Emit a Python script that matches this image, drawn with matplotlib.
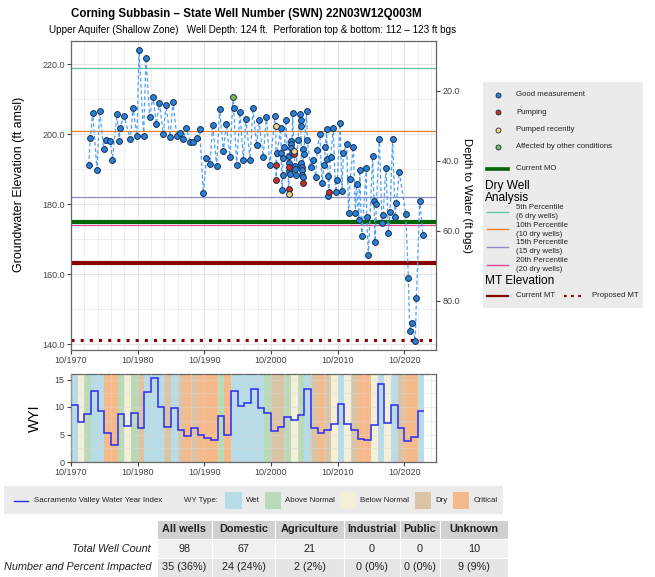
import matplotlib
matplotlib.use("Agg")
import matplotlib.pyplot as plt
import numpy as np
from matplotlib.patches import Rectangle
from matplotlib.ticker import MultipleLocator, FuncFormatter

plt.rcParams["font.family"] = ["Liberation Sans", "DejaVu Sans"]

W, H = 655, 577

# ---- hydrograph measurements: decimal year, elevation (ft amsl), quality code
# G = good, P = pumping, R = pumped recently, O = affected by other conditions
meas_year = [
    1973.40, 1973.65, 1974.00, 1974.65, 1975.05, 1975.65, 1976.00, 1976.65, 1976.95, 1977.65,
    1978.00, 1978.05, 1978.70, 1979.65, 1980.05, 1980.65, 1980.95, 1981.65, 1982.00, 1982.55,
    1983.05, 1983.55, 1984.00, 1984.60, 1985.00, 1985.60, 1986.05, 1986.60, 1987.10, 1987.60,
    1988.05, 1988.65, 1989.10, 1989.65, 1990.05, 1990.60, 1991.05, 1991.60, 1992.00, 1992.60,
    1993.05, 1993.60, 1994.05, 1994.60, 1995.05, 1995.15, 1995.60, 1996.10, 1996.60, 1997.00,
    1997.60, 1998.05, 1998.60, 1998.95, 1999.57, 2000.07, 2000.57, 2001.37, 2001.47, 2001.52,
    2001.57, 2001.67, 2002.20, 2002.27, 2002.40, 2002.50, 2002.53, 2002.77, 2003.00, 2003.40,
    2003.42, 2003.45, 2003.47, 2003.48, 2003.50, 2003.55, 2003.73, 2003.75, 2003.80, 2003.85,
    2004.00, 2004.18, 2004.22, 2004.35, 2004.40, 2004.45, 2004.80, 2005.10, 2005.20, 2005.25,
    2005.30, 2005.35, 2005.40, 2005.45, 2005.50, 2005.55, 2005.60, 2005.65, 2006.08, 2006.18,
    2006.68, 2007.08, 2007.44, 2007.68, 2008.08, 2008.40, 2008.70, 2008.90, 2009.09, 2009.20,
    2009.34, 2009.36, 2009.45, 2009.69, 2010.09, 2010.44, 2010.70, 2011.10, 2011.40, 2011.60,
    2012.10, 2012.40, 2012.60, 2013.10, 2013.40, 2013.60, 2013.90, 2014.06, 2014.36, 2015.06,
    2015.10, 2015.36, 2016.00, 2016.20, 2016.36, 2016.56, 2017.00, 2017.40, 2017.56, 2018.00,
    2018.36, 2018.60, 2019.00, 2019.36, 2019.56, 2020.00, 2020.96, 2021.36, 2021.56, 2021.90,
    2022.40, 2022.56, 2023.06, 2023.56,
]
meas_elev = [
    191.2, 199.0, 206.1, 189.9, 206.8, 195.7, 198.5, 198.2, 192.6, 205.7,
    198.1, 201.7, 205.3, 198.6, 207.6, 199.5, 224.0, 199.6, 221.9, 205.1,
    210.7, 202.9, 208.9, 200.2, 208.4, 199.3, 209.2, 199.6, 200.4, 198.6,
    201.8, 197.7, 197.7, 198.9, 201.5, 183.1, 193.1, 191.6, 202.7, 191.0,
    207.2, 195.1, 202.9, 193.6, 210.7, 207.4, 191.2, 206.3, 192.6, 204.3,
    192.7, 207.6, 196.9, 204.1, 193.6, 205.1, 191.2, 205.2, 202.5, 186.8,
    191.2, 194.8, 201.7, 194.8, 184.2, 188.4, 193.1, 196.5, 204.1, 184.4,
    183.0, 191.7, 190.7, 193.8, 189.6, 188.7, 198.2, 197.1, 196.0, 194.8,
    206.0, 195.2, 194.3, 191.0, 190.1, 188.4, 198.4, 205.7, 204.1, 202.4,
    191.7, 190.7, 189.8, 188.4, 187.9, 186.1, 195.8, 194.5, 206.8, 198.4,
    190.6, 192.7, 187.8, 195.5, 200.1, 186.0, 191.2, 196.3, 201.4, 192.8,
    188.1, 182.5, 183.6, 193.4, 201.7, 183.4, 186.9, 203.1, 183.9, 194.6,
    197.2, 177.4, 187.1, 196.5, 177.6, 185.7, 175.5, 189.8, 170.8, 190.3,
    176.3, 165.5, 193.8, 181.0, 169.3, 180.1, 198.8, 174.6, 177.0, 190.3,
    171.7, 177.7, 198.8, 176.3, 180.3, 189.3, 177.3, 159.0, 143.6, 146.0,
    140.9, 153.1, 181.0, 171.1,
]
meas_code = [
    "G", "G", "G", "G", "G", "G", "G", "G", "G", "G",
    "G", "G", "G", "G", "G", "G", "G", "G", "G", "G",
    "G", "G", "G", "G", "G", "G", "G", "G", "G", "G",
    "G", "G", "G", "G", "G", "G", "G", "G", "G", "G",
    "G", "G", "G", "G", "O", "G", "G", "G", "G", "G",
    "G", "G", "G", "G", "G", "G", "G", "G", "R", "P",
    "P", "G", "G", "G", "G", "G", "G", "G", "G", "P",
    "R", "G", "P", "G", "G", "G", "G", "G", "G", "G",
    "G", "R", "P", "G", "G", "G", "G", "G", "G", "G",
    "G", "G", "G", "G", "G", "P", "G", "G", "G", "G",
    "G", "G", "G", "G", "G", "G", "G", "G", "G", "G",
    "G", "G", "P", "G", "G", "G", "G", "G", "G", "G",
    "G", "G", "G", "G", "G", "G", "G", "G", "G", "G",
    "G", "G", "G", "G", "G", "G", "G", "G", "G", "G",
    "G", "G", "G", "G", "G", "G", "G", "G", "G", "G",
    "G", "G", "G", "G",
]

status_codes = ["G", "P", "R", "O"]
status_labels = ["Good measurement", "Pumping", "Pumped recently", "Affected by other conditions"]
status_colors = ["#2a80d8", "#d42a1e", "#f3d77a", "#7dbb4c"]

ground_surface = 232.45      # depth axis = ground_surface - elevation
mo_elev = 174.9
mt_current = 163.2
mt_proposed = 141.05
pct_names = ["5th Percentile", "10th Percentile", "15th Percentile", "20th Percentile"]
pct_wells = [6, 10, 15, 20]
pct_elev = [218.9, 201.0, 182.0, 174.1]
pct_colors = ["#63c3a4", "#f07d22", "#8f8cc9", "#e0469a"]

# ---- Sacramento Valley water year index and classification
wy_years = list(range(1971, 2024))
wyi = [10.3, 7.2, 8.7, 13.0, 9.3, 5.3, 3.1, 8.7, 6.5, 9.0,
       6.2, 12.7, 15.2, 10.0, 6.4, 9.8, 5.8, 4.7, 6.1, 4.9,
       4.3, 4.0, 8.4, 5.0, 12.9, 10.2, 10.8, 13.3, 9.8, 9.0,
       5.7, 6.3, 8.1, 7.6, 8.5, 13.2, 6.1, 5.2, 5.8, 7.0,
       10.5, 6.9, 5.8, 4.1, 4.0, 6.7, 14.1, 7.1, 10.3, 6.1,
       3.8, 4.5, 9.3]
wy_type = ["W", "BN", "AN", "W", "W", "C", "C", "AN", "BN", "AN",
           "D", "W", "W", "W", "D", "W", "D", "C", "D", "C",
           "C", "C", "AN", "C", "W", "W", "W", "W", "W", "AN",
           "D", "D", "AN", "BN", "AN", "W", "D", "C", "D", "BN",
           "W", "BN", "D", "C", "C", "BN", "W", "BN", "W", "D",
           "C", "C", "W"]
type_codes = ["W", "AN", "BN", "D", "C"]
type_labels = ["Wet", "Above Normal", "Below Normal", "Dry", "Critical"]
type_colors = ["#b8dbe8", "#b9dab7", "#f3efd8", "#dbc4a6", "#f5b98a"]

# ---- well impact table
tbl_cols = ["All wells", "Domestic", "Agriculture", "Industrial", "Public", "Unknown"]
tbl_rows = ["Total Well Count", "Number and Percent Impacted"]
well_count = [98, 67, 21, 0, 0, 10]
impacted = [35, 24, 2, 0, 0, 9]
impacted_pct = [36, 24, 2, 0, 0, 9]

X0, X1 = 1970.75, 2025.5
decade_ticks = np.arange(1970.75, 2021, 10)
decade_labels = [f"10/{int(t)}" for t in decade_ticks]
TICK_COLOR = "#444444"
TEXT_COLOR = "#222222"


def px_axes(x0, y0, x1, y1):
    """Axes placed by pixel box (left, top, right, bottom)."""
    return fig.add_axes([x0 / W, 1 - y1 / H, (x1 - x0) / W, (y1 - y0) / H])


def panel(x0, y0, x1, y1, color=None):
    a = px_axes(x0, y0, x1, y1)
    a.set_xlim(x0, x1)
    a.set_ylim(y1, y0)
    a.set_xticks([]); a.set_yticks([])
    for s in a.spines.values():
        s.set_visible(False)
    if color:
        a.set_facecolor(color)
    else:
        a.patch.set_alpha(0)
    return a


def style_time_axis(a):
    a.set_xlim(X0, X1)
    a.set_xticks(decade_ticks)
    a.set_xticklabels(decade_labels)
    a.set_xticks(np.arange(1972.75, X1, 2), minor=True)
    a.tick_params(axis="both", which="major", labelsize=6.5, colors=TICK_COLOR, length=3, pad=1.5)
    a.tick_params(axis="both", which="minor", length=0)
    for s in a.spines.values():
        s.set_color("#666666")
        s.set_linewidth(0.9)


fig = plt.figure(figsize=(W / 100, H / 100), dpi=100)

fig.text(246 / W, 1 - 14 / H, "Corning Subbasin – State Well Number (SWN) 22N03W12Q003M",
         ha="center", va="center", fontsize=8.3, fontweight="bold")
fig.text(253 / W, 1 - 30 / H,
         "Upper Aquifer (Shallow Zone)   Well Depth: 124 ft.  Perforation top & bottom: 112 – 123 ft bgs",
         ha="center", va="center", fontsize=7.1)

# ---- hydrograph
ax = px_axes(71, 41, 436, 350)
style_time_axis(ax)
ax.set_ylim(138.3, 226.7)
ax.yaxis.set_major_locator(MultipleLocator(20))
ax.yaxis.set_minor_locator(MultipleLocator(10))
ax.yaxis.set_major_formatter(FuncFormatter(lambda v, p: f"{v:.1f}"))
ax.grid(True, which="major", color="#e4e4e4", lw=0.8)
ax.grid(True, which="minor", color="#eeeeee", lw=0.7)
ax.set_axisbelow(True)
ax.set_ylabel("Groundwater Elevation (ft amsl)", fontsize=8.9)
ax.yaxis.set_label_coords(-0.125, 0.535)

for e, c in zip(pct_elev, pct_colors):
    ax.axhline(e, color=c, lw=0.9, zorder=2)
ax.axhline(mo_elev, color="#006400", lw=3.0, zorder=2)
ax.axhline(mt_current, color="#8b0000", lw=3.0, zorder=2)
ax.axhline(mt_proposed, color="#8b0000", lw=2.2, ls=(0, (1, 2)), zorder=2)

ax.plot(meas_year, meas_elev, color="#4ea1f5", lw=0.9, ls=(0, (3, 2)), zorder=3)
yr = np.array(meas_year)
el = np.array(meas_elev)
cd = np.array(meas_code)
for code, col in zip(status_codes, status_colors):
    m = cd == code
    ax.plot(yr[m], el[m], "o", ms=4.2, mfc=col, mec="#14304f", mew=0.7, ls="none", zorder=4)

depth = ax.secondary_yaxis("right", functions=(lambda e: ground_surface - e,
                                                lambda d: ground_surface - d))
depth.set_yticks([20, 40, 60, 80])
depth.yaxis.set_major_formatter(FuncFormatter(lambda v, p: f"{v:.1f}"))
depth.tick_params(labelsize=6.5, colors=TICK_COLOR, length=3, pad=1.5)
depth.spines["right"].set_visible(False)
depth.set_ylabel("Depth to Water (ft bgs)", fontsize=8.2, rotation=270, labelpad=9)

# ---- water year index
wx = px_axes(71, 374, 436, 462)
style_time_axis(wx)
wx.set_ylim(0, 16)
wx.set_yticks([0, 5, 10, 15])
wx.yaxis.set_minor_locator(MultipleLocator(2.5))
for y, t in zip(wy_years, wy_type):
    wx.axvspan(y - 0.25, y + 0.75, color=type_colors[type_codes.index(t)], lw=0, zorder=1)
wx.grid(True, which="both", color="#d8d8d8", lw=0.5, alpha=0.6, zorder=1.5)
wx.set_axisbelow(False)
edges = np.r_[np.array(wy_years) - 0.25, wy_years[-1] + 0.75]
wx.stairs(wyi, edges, baseline=None, color="#2b2bf0", lw=1.1, zorder=3)
wx.set_ylabel("WYI", fontsize=10.5, labelpad=9)

# ---- status / threshold legend
lg = panel(483, 82, 643, 308, "#ebebeb")
for i, (lab, col) in enumerate(zip(status_labels, status_colors)):
    y = 95 + 17.3 * i
    lg.plot([498.3], [y], "o", ms=3.6, mfc=col, mec="#14304f", mew=0.6)
    lg.text(516, y, lab, va="center", fontsize=5.6, color=TEXT_COLOR)
lg.plot([487, 508], [169, 169], color="#006400", lw=2.6)
lg.text(516, 169, "Current MO", va="center", fontsize=5.6, color=TEXT_COLOR)
lg.text(485, 186.5, "Dry Well", va="center", fontsize=8.6)
lg.text(485, 198.5, "Analysis", va="center", fontsize=8.6)
for i, (nm, n, col) in enumerate(zip(pct_names, pct_wells, pct_colors)):
    y = 211.7 + 17.6 * i
    lg.plot([487, 508], [y, y], color=col, lw=1.0)
    lg.text(516, y - 4, nm, va="center", fontsize=5.6, color=TEXT_COLOR)
    lg.text(516, y + 5, f"({n} dry wells)", va="center", fontsize=5.6, color=TEXT_COLOR)
lg.text(485, 281.5, "MT Elevation", va="center", fontsize=8.6)
lg.plot([487, 508], [295.7, 295.7], color="#8b0000", lw=1.6)
lg.text(516, 295.7, "Current MT", va="center", fontsize=5.6, color=TEXT_COLOR)
lg.plot([564, 581], [295.7, 295.7], color="#8b0000", lw=1.6, ls=(0, (1.2, 2)))
lg.text(592.5, 295.7, "Proposed MT", va="center", fontsize=5.6, color=TEXT_COLOR)

# ---- water year legend
bl = panel(4, 486, 503, 514, "#ebebeb")
bl.plot([14, 28.5], [500.5, 500.5], color="#2b2bf0", lw=1.0)
bl.text(34.5, 500.5, "Sacramento Valley Water Year Index", va="center", fontsize=5.7, color=TEXT_COLOR)
bl.text(184.5, 500.5, "WY Type:", va="center", fontsize=5.7, color=TEXT_COLOR)
sw_x = [225.3, 265, 340, 415, 452.7]
for x, lab, col in zip(sw_x, type_labels, type_colors):
    bl.add_patch(Rectangle((x, 492.3), 16.3, 16.7, color=col, lw=0))
    bl.text(x + 20.5, 500.5, lab, va="center", fontsize=5.7, color=TEXT_COLOR)

# ---- impact table
tb = panel(0, 520, 510, 577)
col_edges = [157, 212, 275, 344, 400, 440, 508]
row_edges = [520, 539, 558, 577]
row_fill = ["#d0d0d0", "#f1f1f1", "#e5e5e5"]
cells = [tbl_cols,
         [str(v) for v in well_count],
         [f"{n} ({p}%)" for n, p in zip(impacted, impacted_pct)]]
for r in range(3):
    yc = (row_edges[r] + row_edges[r + 1]) / 2
    for c in range(6):
        x0, x1 = col_edges[c], col_edges[c + 1]
        tb.add_patch(Rectangle((x0, row_edges[r]), x1 - x0, row_edges[r + 1] - row_edges[r],
                               facecolor=row_fill[r], edgecolor="white", lw=0.8))
        tb.text((x0 + x1) / 2, yc, cells[r][c], ha="center", va="center", fontsize=7.8,
                fontweight="bold" if r == 0 else "normal", color=TEXT_COLOR)
    if r > 0:
        tb.text(151, yc, tbl_rows[r - 1], ha="right", va="center", fontsize=7.8,
                style="italic", color=TEXT_COLOR)

fig.savefig("out.png", dpi=100)
